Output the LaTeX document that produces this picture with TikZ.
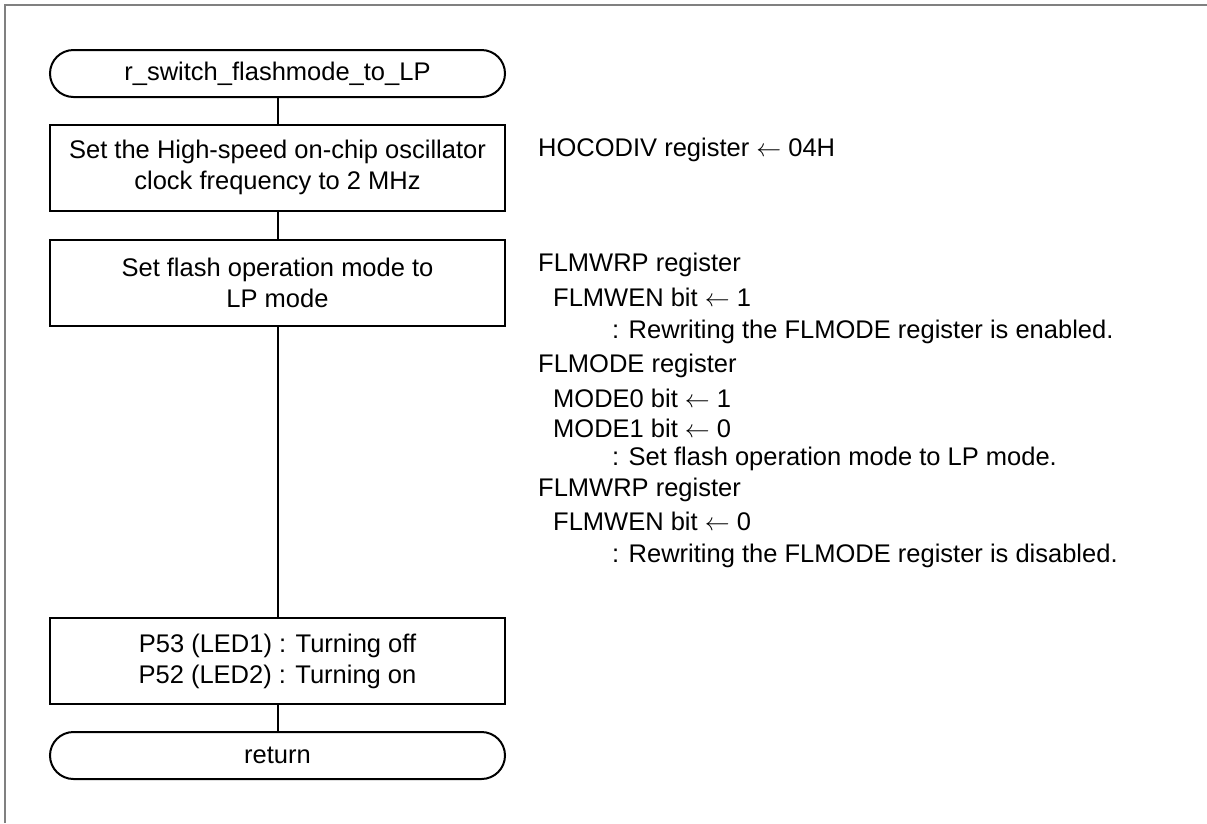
\documentclass[tikz,border=0pt]{standalone}
\usepackage{fontspec}
\setmainfont{Liberation Sans}
\usetikzlibrary{positioning}

\newcommand{\regarrow}{\ $\leftarrow$\ }

\tikzset{
  terminal/.style={draw, line width=2pt, rounded corners=23.5pt,
    minimum width=455pt, minimum height=47pt, inner sep=0pt},
  process/.style={draw, line width=2pt, align=center,
    minimum width=455pt, minimum height=86pt, inner sep=0pt},
  note/.style={anchor=west, inner sep=0pt},
  flow/.style={line width=2pt}
}

\begin{document}
\begin{tikzpicture}[x=1pt, y=-1pt, font=\fontsize{25.5}{31}\selectfont]
\useasboundingbox (0,0) rectangle (1207,823);

% frame (top and left edge)
\draw[gray, line width=2pt] (5,823) -- (5,5) -- (1207,5);

% flowchart
\node[terminal] (start) at (277.5,73.5) {r\_switch\_flashmode\_to\_LP};
\node[process] (hoco) at (277.5,167.5)
  {Set the High-speed on-chip oscillator\\clock frequency to 2 MHz};
\node[process] (flmode) at (277.5,282.5)
  {Set flash operation mode to\\LP mode};
\node[process] (led) at (277.5,661)
  {P53 (LED1) : Turning off\\P52 (LED2) : Turning on};
\node[terminal] (ret) at (277.5,755.5) {return};

\draw[flow] (start) -- (hoco);
\draw[flow] (hoco) -- (flmode);
\draw[flow] (flmode) -- (led);
\draw[flow] (led) -- (ret);

% notes
\node[note] (nhoco) at (538,150) {HOCODIV register\regarrow 04H};

\node[note] (nwrpa) at (538,265) {FLMWRP register};
\node[note] (nwena) at (553,297) {FLMWEN bit\regarrow 1};
\node[note] (nena)  at (612,332) {: Rewriting the FLMODE register is enabled.};
\node[note] (nmode) at (538,366) {FLMODE register};
\node[note] (nmd0)  at (553,398) {MODE0 bit\regarrow 1};
\node[note] (nmd1)  at (553,428) {MODE1 bit\regarrow 0};
\node[note] (nset)  at (612,459) {: Set flash operation mode to LP mode.};
\node[note] (nwrpb) at (538,490) {FLMWRP register};
\node[note] (nwenb) at (553,521) {FLMWEN bit\regarrow 0};
\node[note] (ndis)  at (612,556) {: Rewriting the FLMODE register is disabled.};
\end{tikzpicture}
\end{document}
